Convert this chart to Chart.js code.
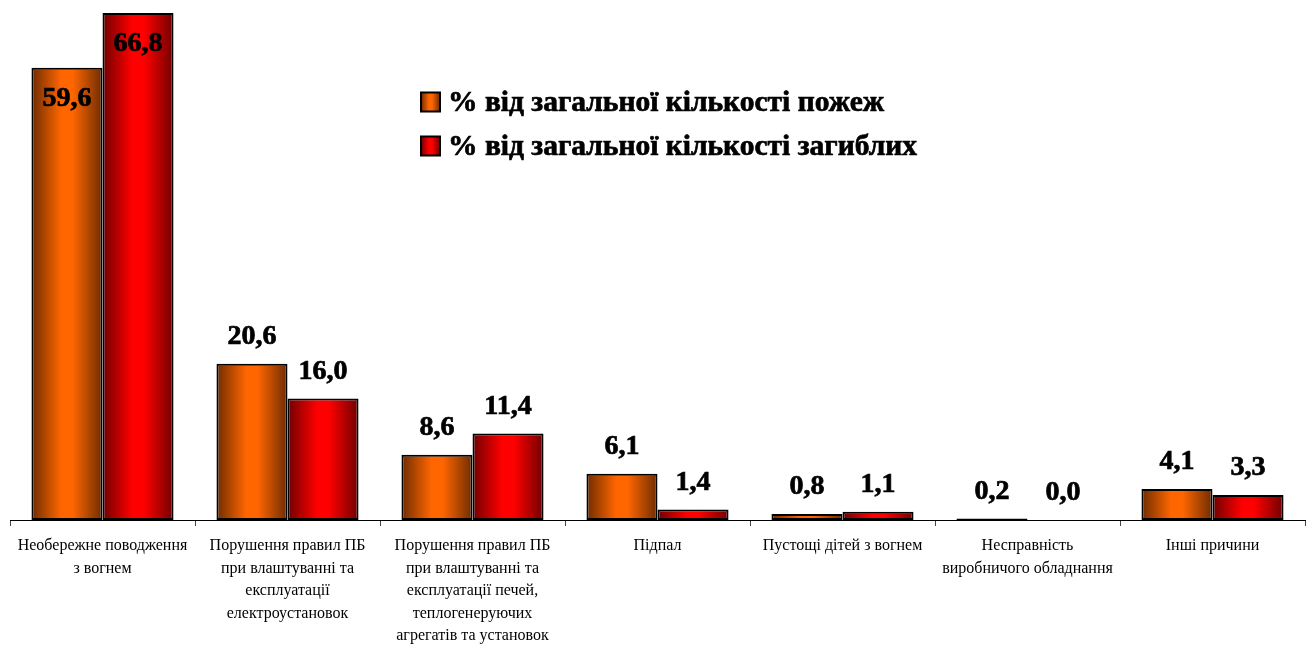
<!DOCTYPE html>
<html>
<head>
<meta charset="utf-8">
<script src="https://cdn.jsdelivr.net/npm/chart.js@4/dist/chart.umd.min.js"></script>
<style>
  html, body { margin: 0; padding: 0; background: #fff; }
  #wrap { width: 1310px; height: 646px; }
</style>
</head>
<body>
<div id="wrap"><canvas id="fireChart" width="1310" height="646"></canvas></div>
<script>
// categories (multiline labels as in the original)
const causes = [
  ['Необережне поводження', 'з вогнем'],
  ['Порушення правил ПБ', 'при влаштуванні та', 'експлуатації', 'електроустановок'],
  ['Порушення правил ПБ', 'при влаштуванні та', 'експлуатації печей,', 'теплогенеруючих', 'агрегатів та установок'],
  ['Підпал'],
  ['Пустощі дітей з вогнем'],
  ['Несправність', 'виробничого обладнання'],
  ['Інші причини']
];
const firesShare = [59.6, 20.6, 8.6, 6.1, 0.8, 0.2, 4.1];
const deathsShare = [66.8, 16.0, 11.4, 1.4, 1.1, 0.0, 3.3];
const seriesNames = ['% від загальної кількості пожеж', '% від загальної кількості загиблих'];

const CAT_PCT = 0.768;
const palette = [
  { dark: '#6e2c00', light: '#ff6600' },
  { dark: '#700000', light: '#ff0000' }
];
const SERIF = '"Liberation Serif", "Times New Roman", serif';

// horizontal gradient: dark edges, bright middle (like the Excel fill)
function barGradient(ctx, x0, x1, pal) {
  const g = ctx.createLinearGradient(x0, 0, x1, 0);
  g.addColorStop(0, pal.dark);
  g.addColorStop(0.42, pal.light);
  g.addColorStop(0.58, pal.light);
  g.addColorStop(1, pal.dark);
  return g;
}

function fillFor(dsIndex) {
  return (context) => {
    const chart = context.chart;
    const xs = chart.scales.x;
    if (!xs || context.dataIndex === undefined) return palette[dsIndex].light;
    const center = xs.getPixelForValue(context.dataIndex);
    const catW = (xs.right - xs.left) / causes.length;
    if (!isFinite(center) || !isFinite(catW) || catW <= 0) return palette[dsIndex].light;
    const w = catW * CAT_PCT / 2;
    const x0 = dsIndex === 0 ? center - w : center;
    return barGradient(chart.ctx, x0, x0 + w, palette[dsIndex]);
  };
}

// heavy text helper (fill + thin stroke, the original labels are very bold)
function heavyText(ctx, txt, x, y) {
  ctx.fillText(txt, x, y);
  ctx.strokeText(txt, x, y);
}

// value labels: above bars, inside the top for the tall first group
const valueLabels = {
  id: 'valueLabels',
  afterDatasetsDraw(chart) {
    const ctx = chart.ctx;
    ctx.save();
    ctx.font = 'bold 28px ' + SERIF;
    ctx.fillStyle = '#000';
    ctx.strokeStyle = '#000';
    ctx.lineWidth = 0.7;
    ctx.textAlign = 'center';
    ctx.textBaseline = 'middle';
    chart.data.datasets.forEach((ds, i) => {
      chart.getDatasetMeta(i).data.forEach((bar, j) => {
        const v = ds.data[j];
        const txt = v.toFixed(1).replace('.', ',');
        const y = v > 50 ? bar.y + 31 : bar.y - 27;
        heavyText(ctx, txt, bar.x, y);
      });
    });
    ctx.restore();
  }
};

// legend drawn inside the plot area
const innerLegend = {
  id: 'innerLegend',
  afterDraw(chart) {
    const ctx = chart.ctx;
    ctx.save();
    ctx.font = 'bold 29.5px ' + SERIF;
    ctx.textBaseline = 'middle';
    ctx.textAlign = 'left';
    const rows = [102, 146];
    seriesNames.forEach((name, i) => {
      const y = rows[i];
      const bx = 421, size = 19;
      ctx.fillStyle = barGradient(ctx, bx, bx + size, palette[i]);
      ctx.fillRect(bx, y - size / 2, size, size);
      ctx.lineWidth = 2;
      ctx.strokeStyle = '#000';
      ctx.strokeRect(bx, y - size / 2, size, size);
      ctx.fillStyle = '#000';
      ctx.lineWidth = 0.7;
      heavyText(ctx, name, 448, y + 1);
    });
    ctx.restore();
  }
};

const ctx = document.getElementById('fireChart').getContext('2d');
new Chart(ctx, {
  type: 'bar',
  data: {
    labels: causes,
    datasets: [
      {
        label: seriesNames[0],
        data: firesShare,
        backgroundColor: fillFor(0),
        borderColor: '#000',
        borderWidth: 2,
        borderSkipped: false,
        categoryPercentage: CAT_PCT,
        barPercentage: 1
      },
      {
        label: seriesNames[1],
        data: deathsShare,
        backgroundColor: fillFor(1),
        borderColor: '#000',
        borderWidth: 2,
        borderSkipped: false,
        categoryPercentage: CAT_PCT,
        barPercentage: 1
      }
    ]
  },
  options: {
    responsive: false,
    animation: false,
    layout: { padding: { top: 4, left: 10, right: 5, bottom: 0 } },
    plugins: {
      legend: { display: false },
      tooltip: { enabled: false }
    },
    scales: {
      y: {
        display: false,
        min: 0,
        max: 68
      },
      x: {
        afterFit(scale) { scale.height = 126; },
        grid: {
          drawOnChartArea: false,
          drawTicks: true,
          tickLength: 6,
          color: '#444',
          offset: true
        },
        border: { display: true, color: '#000', width: 1 },
        ticks: {
          color: '#000',
          padding: 9,
          maxRotation: 0,
          autoSkip: false,
          font: { family: SERIF, size: 16, lineHeight: 1.4 }
        }
      }
    }
  },
  plugins: [valueLabels, innerLegend]
});
</script>
</body>
</html>
